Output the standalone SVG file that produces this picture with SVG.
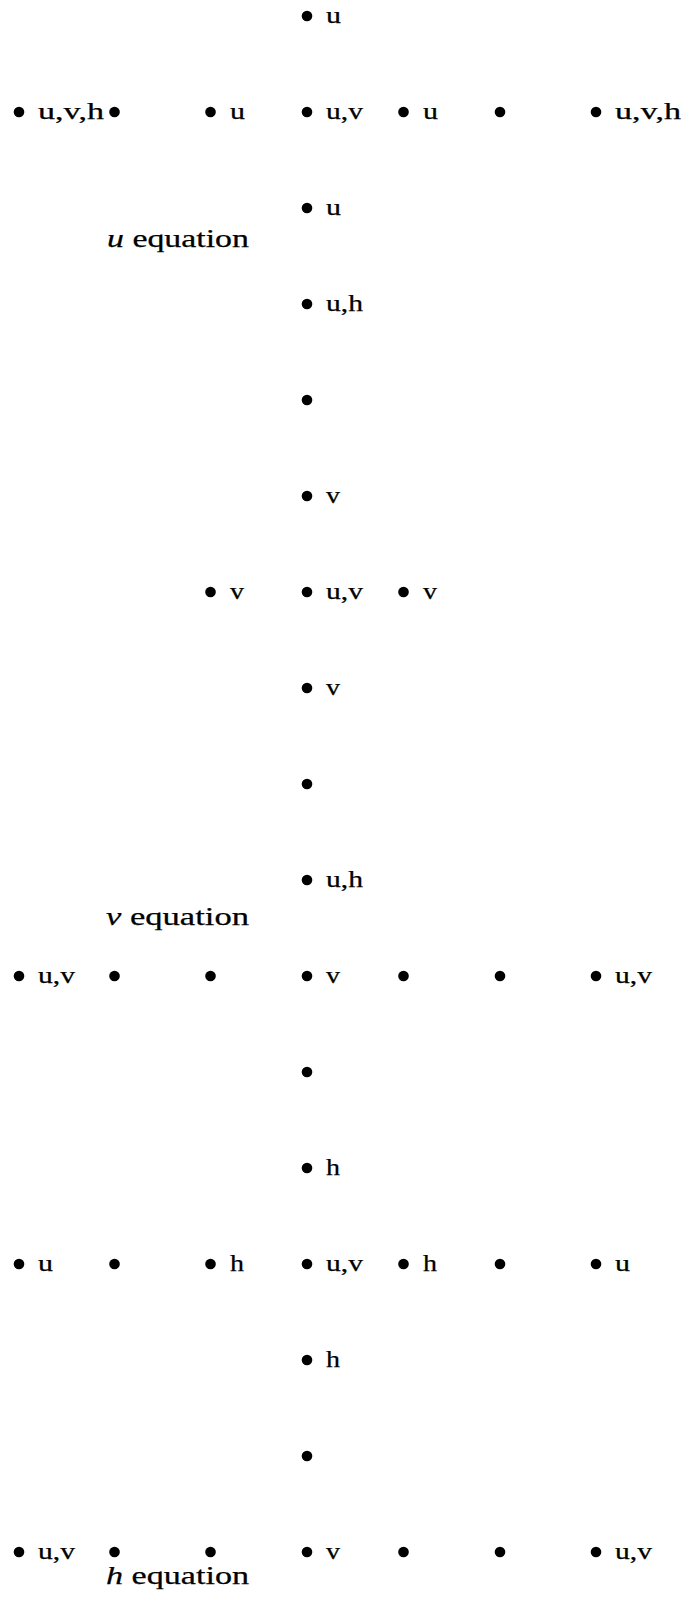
<svg xmlns="http://www.w3.org/2000/svg" width="690" height="1604" viewBox="0 0 690 1604">
<style>
  .dot { fill: #000; }
  .lbl { font-family: "Liberation Serif", "Times New Roman", serif; font-size: 24px; fill: #000; stroke: #000; stroke-width: 0.25; }
  .eq { font-family: "Liberation Serif", "Times New Roman", serif; font-size: 25px; fill: #000; stroke: #000; stroke-width: 0.25; }
  .it { font-style: italic; }
</style>
<defs>
  <circle id="d" r="5.3" class="dot"/>
</defs>
<rect width="690" height="1604" fill="#fff"/>
<g id="connectors"/>

<!-- u equation stencil -->
<g id="u-block">
  <g id="u-n0"><use href="#d" x="307" y="16"/><text class="lbl" x="326" y="22.5" textLength="15" lengthAdjust="spacingAndGlyphs">u</text></g>
  <g id="u-r0c0"><use href="#d" x="19" y="112"/><text class="lbl" x="38" y="118.5" textLength="66" lengthAdjust="spacingAndGlyphs">u,v,h</text></g>
  <g id="u-r0c1"><use href="#d" x="114.5" y="112"/></g>
  <g id="u-r0c2"><use href="#d" x="210.5" y="112"/><text class="lbl" x="230" y="118.5" textLength="15" lengthAdjust="spacingAndGlyphs">u</text></g>
  <g id="u-r0c3"><use href="#d" x="307" y="112"/><text class="lbl" x="326" y="118.5" textLength="37" lengthAdjust="spacingAndGlyphs">u,v</text></g>
  <g id="u-r0c4"><use href="#d" x="403.5" y="112"/><text class="lbl" x="423" y="118.5" textLength="15" lengthAdjust="spacingAndGlyphs">u</text></g>
  <g id="u-r0c5"><use href="#d" x="500" y="112"/></g>
  <g id="u-r0c6"><use href="#d" x="596" y="112"/><text class="lbl" x="615" y="118.5" textLength="66" lengthAdjust="spacingAndGlyphs">u,v,h</text></g>
  <g id="u-n2"><use href="#d" x="307" y="208"/><text class="lbl" x="326" y="214.5" textLength="15" lengthAdjust="spacingAndGlyphs">u</text></g>
  <g id="u-title"><text class="eq" x="107" y="247" textLength="142" lengthAdjust="spacingAndGlyphs"><tspan class="it">u</tspan> equation</text></g>
</g>

<!-- v equation stencil -->
<g id="v-block">
  <g id="v-n0"><use href="#d" x="307" y="304"/><text class="lbl" x="326" y="310.5" textLength="37" lengthAdjust="spacingAndGlyphs">u,h</text></g>
  <g id="v-n1"><use href="#d" x="307" y="400"/></g>
  <g id="v-n2"><use href="#d" x="307" y="496"/><text class="lbl" x="326" y="502.5" textLength="14" lengthAdjust="spacingAndGlyphs">v</text></g>
  <g id="v-r0c2"><use href="#d" x="210.5" y="592"/><text class="lbl" x="230" y="598.5" textLength="14" lengthAdjust="spacingAndGlyphs">v</text></g>
  <g id="v-r0c3"><use href="#d" x="307" y="592"/><text class="lbl" x="326" y="598.5" textLength="37" lengthAdjust="spacingAndGlyphs">u,v</text></g>
  <g id="v-r0c4"><use href="#d" x="403.5" y="592"/><text class="lbl" x="423" y="598.5" textLength="14" lengthAdjust="spacingAndGlyphs">v</text></g>
  <g id="v-n4"><use href="#d" x="307" y="688"/><text class="lbl" x="326" y="694.5" textLength="14" lengthAdjust="spacingAndGlyphs">v</text></g>
  <g id="v-n5"><use href="#d" x="307" y="784"/></g>
  <g id="v-n6"><use href="#d" x="307" y="880"/><text class="lbl" x="326" y="886.5" textLength="37" lengthAdjust="spacingAndGlyphs">u,h</text></g>
  <g id="v-title"><text class="eq" x="106" y="925" textLength="143" lengthAdjust="spacingAndGlyphs"><tspan class="it">v</tspan> equation</text></g>
</g>

<!-- h equation stencil -->
<g id="h-block">
  <g id="h-r0c0"><use href="#d" x="19" y="976"/><text class="lbl" x="38" y="982.5" textLength="37" lengthAdjust="spacingAndGlyphs">u,v</text></g>
  <g id="h-r0c1"><use href="#d" x="114.5" y="976"/></g>
  <g id="h-r0c2"><use href="#d" x="210.5" y="976"/></g>
  <g id="h-r0c3"><use href="#d" x="307" y="976"/><text class="lbl" x="326" y="982.5" textLength="14" lengthAdjust="spacingAndGlyphs">v</text></g>
  <g id="h-r0c4"><use href="#d" x="403.5" y="976"/></g>
  <g id="h-r0c5"><use href="#d" x="500" y="976"/></g>
  <g id="h-r0c6"><use href="#d" x="596" y="976"/><text class="lbl" x="615" y="982.5" textLength="37" lengthAdjust="spacingAndGlyphs">u,v</text></g>
  <g id="h-n1"><use href="#d" x="307" y="1072"/></g>
  <g id="h-n2"><use href="#d" x="307" y="1168"/><text class="lbl" x="326" y="1174.5" textLength="14" lengthAdjust="spacingAndGlyphs">h</text></g>
  <g id="h-r1c0"><use href="#d" x="19" y="1264"/><text class="lbl" x="38" y="1270.5" textLength="15" lengthAdjust="spacingAndGlyphs">u</text></g>
  <g id="h-r1c1"><use href="#d" x="114.5" y="1264"/></g>
  <g id="h-r1c2"><use href="#d" x="210.5" y="1264"/><text class="lbl" x="230" y="1270.5" textLength="14" lengthAdjust="spacingAndGlyphs">h</text></g>
  <g id="h-r1c3"><use href="#d" x="307" y="1264"/><text class="lbl" x="326" y="1270.5" textLength="37" lengthAdjust="spacingAndGlyphs">u,v</text></g>
  <g id="h-r1c4"><use href="#d" x="403.5" y="1264"/><text class="lbl" x="423" y="1270.5" textLength="14" lengthAdjust="spacingAndGlyphs">h</text></g>
  <g id="h-r1c5"><use href="#d" x="500" y="1264"/></g>
  <g id="h-r1c6"><use href="#d" x="596" y="1264"/><text class="lbl" x="615" y="1270.5" textLength="15" lengthAdjust="spacingAndGlyphs">u</text></g>
  <g id="h-n4"><use href="#d" x="307" y="1360"/><text class="lbl" x="326" y="1366.5" textLength="14" lengthAdjust="spacingAndGlyphs">h</text></g>
  <g id="h-n5"><use href="#d" x="307" y="1456"/></g>
  <g id="h-r2c0"><use href="#d" x="19" y="1552"/><text class="lbl" x="38" y="1558.5" textLength="37" lengthAdjust="spacingAndGlyphs">u,v</text></g>
  <g id="h-r2c1"><use href="#d" x="114.5" y="1552"/></g>
  <g id="h-r2c2"><use href="#d" x="210.5" y="1552"/></g>
  <g id="h-r2c3"><use href="#d" x="307" y="1552"/><text class="lbl" x="326" y="1558.5" textLength="14" lengthAdjust="spacingAndGlyphs">v</text></g>
  <g id="h-r2c4"><use href="#d" x="403.5" y="1552"/></g>
  <g id="h-r2c5"><use href="#d" x="500" y="1552"/></g>
  <g id="h-r2c6"><use href="#d" x="596" y="1552"/><text class="lbl" x="615" y="1558.5" textLength="37" lengthAdjust="spacingAndGlyphs">u,v</text></g>
  <g id="h-title"><text class="eq" x="106" y="1584" textLength="143" lengthAdjust="spacingAndGlyphs"><tspan class="it">h</tspan> equation</text></g>
</g>
</svg>
